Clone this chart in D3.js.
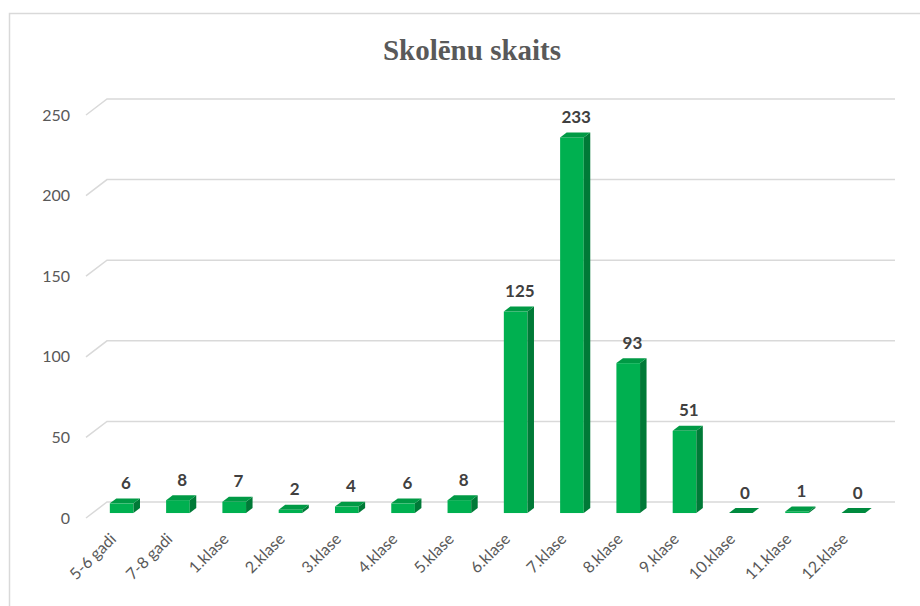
<!DOCTYPE html>
<html>
<head>
<meta charset="utf-8">
<script src="https://cdn.jsdelivr.net/npm/d3@7"></script>
<style>
  html, body { margin: 0; padding: 0; background: #fff; }
  svg { display: block; }
</style>
</head>
<body>
<script>
const categories = ["5-6 gadi", "7-8 gadi", "1.klase", "2.klase", "3.klase", "4.klase", "5.klase",
  "6.klase", "7.klase", "8.klase", "9.klase", "10.klase", "11.klase", "12.klase"];
const values = [6, 8, 7, 2, 4, 6, 8, 125, 233, 93, 51, 0, 1, 0];
const yTicks = [0, 50, 100, 150, 200, 250];
const title = "Skolēnu skaits";

const W = 920, H = 606;
const svg = d3.select("body").append("svg").attr("width", W).attr("height", H);

// chart border
svg.append("rect").attr("x", 9.5).attr("y", 13.5).attr("width", 930).attr("height", 620)
  .attr("fill", "none").attr("stroke", "#d9d9d9").attr("stroke-width", 1.5);

// oblique 3D projection: front plane origin, depth vector
const frontX = 86, frontY = 518;
const depthX = 21, depthY = -16;
const x = d3.scaleBand().domain(categories).range([0, 788]).padding(0);
const y = d3.scaleLinear().domain([0, 250]).range([0, -403]);
const P = (xv, v, f) => [frontX + xv + f * depthX, frontY + y(v) + f * depthY];

// gridlines (floor + back wall)
const grid = svg.append("g");
yTicks.forEach(t => {
  const a = P(0, t, 0), b = P(0, t, 1), c = P(x.range()[1], t, 1);
  grid.append("path").attr("d", `M${a}L${b}L${c}`)
    .attr("fill", "none").attr("stroke", "#d9d9d9").attr("stroke-width", 1.5);
  svg.append("text").attr("x", 70).attr("y", a[1]).attr("dy", "0.35em")
    .attr("text-anchor", "end").attr("font-family", "Lato, 'Open Sans', sans-serif")
    .attr("font-size", 16).attr("fill", "#595959").text(t);
});

// bars
const f0 = 0.31, f1 = 0.62;
const bw = x.bandwidth() * 0.42;
const bars = svg.append("g");
categories.forEach((c, i) => {
  const v = values[i];
  const xl = x(c) + (x.bandwidth() - bw) / 2 + 1;
  const xr = xl + bw;
  const ft = P(xl, v, f0), fb = P(xr, 0, f0);
  // front face
  bars.append("rect").attr("x", ft[0]).attr("y", ft[1]).attr("width", fb[0] - ft[0])
    .attr("height", Math.max(0, fb[1] - ft[1])).attr("fill", "#00b050");
  // side face
  const s = [P(xr, 0, f0), P(xr, v, f0), P(xr, v, f1), P(xr, 0, f1)];
  bars.append("path").attr("d", "M" + s.join("L") + "Z").attr("fill", "#007a37");
  // top face
  const tp = [P(xl, v, f0), P(xr, v, f0), P(xr, v, f1), P(xl, v, f1)];
  bars.append("path").attr("d", "M" + tp.join("L") + "Z").attr("fill", v === 0 ? "#008a3e" : "#009a45");
  // value label
  const lc = P((xl + xr) / 2, v, (f0 + f1) / 2);
  svg.append("text").attr("x", lc[0] + 1).attr("y", lc[1] - 12)
    .attr("text-anchor", "middle").attr("font-family", "Lato, 'Open Sans', sans-serif")
    .attr("font-weight", "bold").attr("font-size", 17).attr("fill", "#404040").text(v);
  // category label
  const cl = P((xl + xr) / 2, 0, 0);
  svg.append("text").attr("transform", `translate(${cl[0] + 2},${cl[1] + 22}) rotate(-45)`)
    .attr("text-anchor", "end").attr("font-family", "Lato, 'Open Sans', sans-serif")
    .attr("font-size", 16).attr("fill", "#595959").text(c);
});

// title
svg.append("text").attr("x", 472).attr("y", 60).attr("text-anchor", "middle")
  .attr("font-family", "'Liberation Serif', 'DejaVu Serif', serif").attr("font-weight", "bold")
  .attr("font-size", 29).attr("fill", "#595959").text(title);
</script>
</body>
</html>
